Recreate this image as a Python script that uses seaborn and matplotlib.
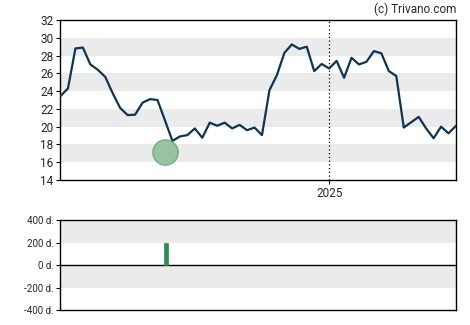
import matplotlib
matplotlib.use("Agg")
import matplotlib.pyplot as plt
import seaborn as sns
import pandas as pd
import numpy as np

# data
prices = [23.45, 24.3, 28.8, 28.9, 27.0, 26.4, 25.6, 23.75, 22.1, 21.3,
          21.35, 22.7, 23.1, 23.0, 20.7, 18.4, 18.9, 19.05, 19.8, 18.75,
          20.45, 20.1, 20.45, 19.8, 20.2, 19.6, 19.9, 19.05, 24.1, 25.8,
          28.3, 29.25, 28.75, 29.0, 26.25, 27.05, 26.55, 27.4, 25.5, 27.75,
          27.0, 27.3, 28.5, 28.25, 26.25, 25.7, 19.9, 20.5, 21.1, 19.8,
          18.7, 20.0, 19.25, 20.1]
start_date = "2024-04-24"
dates = pd.date_range(start_date, periods=len(prices), freq="7D")
marker_date = pd.Timestamp("2024-07-31")
marker_price = 17.1
signal_date = pd.Timestamp("2024-08-01")
signal_value = 200
year_label = "2025"
year_date = pd.Timestamp("2025-01-01")
price_ticks = [14, 16, 18, 20, 22, 24, 26, 28, 30, 32]
vol_ticks = [-400, -200, 0, 200, 400]
vol_labels = ["-400 d.", "-200 d.", "0 d.", "200 d.", "400 d."]

sns.set_style("white")
plt.rcParams['font.family'] = ['Roboto', 'DejaVu Sans']

fig = plt.figure(figsize=(4.7, 3.25), dpi=100)
ax = fig.add_axes([60.5/470, 1-180/325, (456-60.5)/470, 160/325])
ax2 = fig.add_axes([60.5/470, 1-310/325, (456-60.5)/470, 89.7/325])

band = "#ebebeb"
for lo in [16, 20, 24, 28]:
    ax.axhspan(lo, lo+2, color=band, lw=0, zorder=0)

df = pd.DataFrame({"date": dates, "price": prices})
sns.lineplot(data=df, x="date", y="price", ax=ax, color="#0b3556", lw=1.6, zorder=3)
ax.scatter([marker_date], [marker_price], s=330, color="#8fbf98", edgecolor="#6aa878",
           lw=1, alpha=0.9, zorder=4)
ax.axvline(year_date, color="black", ls=(0, (1, 2)), lw=0.9, zorder=2)

ax.set_xlim(dates[0], dates[-1])
ax.set_ylim(14, 32)
ax.set_yticks(price_ticks)
ax.set_xticks([year_date])
ax.set_xticklabels([year_label])
ax.set_xlabel("")
ax.set_ylabel("")
ax.tick_params(axis="both", labelsize=8.5, length=3, width=0.8, color="black", pad=2,
               left=True, bottom=True)
for s in ax.spines.values():
    s.set_color("black")
    s.set_linewidth(1)

# bottom panel
ax2.axhspan(200, 400, color=band, lw=0, zorder=0)
ax2.axhspan(-200, 0, color=band, lw=0, zorder=0)
ax2.bar([signal_date], [signal_value], width=4.6, color="#2e8b57", edgecolor="#2e8b57",
        lw=0.5, zorder=3)
ax2.axhline(0, color="black", lw=1, zorder=2)
ax2.set_xlim(dates[0], dates[-1])
ax2.set_ylim(-400, 400)
ax2.set_yticks(vol_ticks)
ax2.set_yticklabels(vol_labels)
ax2.set_xticks([])
ax2.tick_params(axis="y", labelsize=7, length=3, width=0.8, color="black", pad=2, left=True)
for s in ax2.spines.values():
    s.set_color("black")
    s.set_linewidth(1)

fig.text(456/470, 1-9/325, "(c) Trivano.com", ha="right", va="center", fontsize=8.5)

fig.savefig("out.png", dpi=100)
